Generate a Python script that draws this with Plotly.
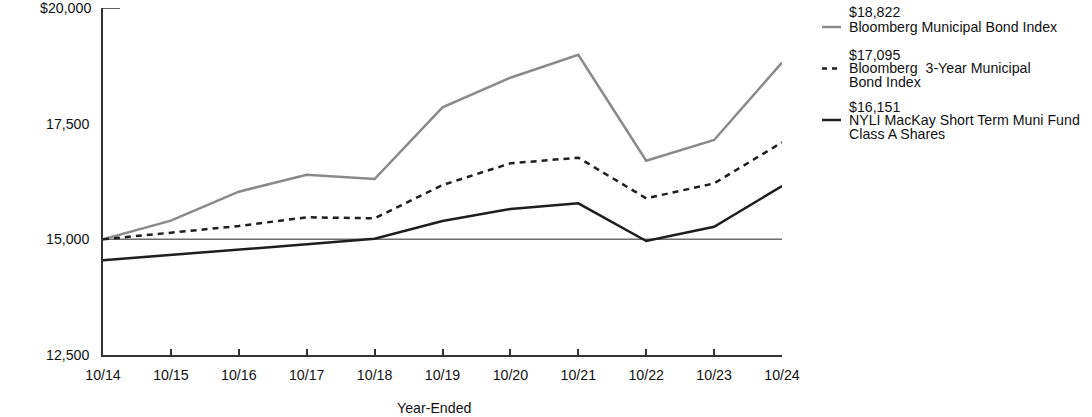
import plotly.graph_objects as go

years = ["10/14", "10/15", "10/16", "10/17", "10/18", "10/19", "10/20", "10/21", "10/22", "10/23", "10/24"]
muni_index = [15000, 15403, 16030, 16397, 16304, 17853, 18493, 18990, 16699, 17147, 18822]
muni_3yr = [15000, 15140, 15288, 15476, 15454, 16174, 16643, 16765, 15886, 16210, 17095]
fund = [14550, 14661, 14784, 14892, 15014, 15396, 15655, 15778, 14964, 15273, 16151]

y_ticks = [12500, 15000, 17500]
y_tick_text = ["12,500", "15,000", "17,500"]
y_top = 20000
y_top_text = "$20,000"

legend_values = ["$18,822", "$17,095", "$16,151"]
legend_names = [["Bloomberg Municipal Bond Index"],
                ["Bloomberg  3-Year Municipal", "Bond Index"],
                ["NYLI MacKay Short Term Muni Fund", "Class A Shares"]]

W, H = 1092, 417
L, R, T, B = 103, 782, 8, 355
FONT = "Liberation Sans, Arial, sans-serif"
FS = 14.2

def px_x(p):
    return (p - L) / (R - L)

def px_y(p):
    return (B - p) / (B - T)

gray = "#8a8a8a"
dark = "#1e1e1e"

fig = go.Figure()
fig.add_trace(go.Scatter(x=years, y=muni_index, mode="lines",
                         line=dict(color=gray, width=2.5), showlegend=False))
fig.add_trace(go.Scatter(x=years, y=muni_3yr, mode="lines",
                         line=dict(color=dark, width=2.5, dash="6px,5px"), showlegend=False))
fig.add_trace(go.Scatter(x=years, y=fund, mode="lines",
                         line=dict(color=dark, width=2.5), showlegend=False))

shapes = [
    dict(type="line", xref="paper", yref="y", x0=0, x1=1, y0=15000, y1=15000,
         line=dict(color="#6e6e6e", width=1.5), layer="below"),
    dict(type="line", xref="paper", yref="y", x0=0, x1=px_x(120), y0=y_top, y1=y_top,
         line=dict(color="#333333", width=1.5)),
]
styles = [dict(color=gray, width=2.5), dict(color=dark, width=2.5, dash="5px,5px"),
          dict(color=dark, width=2.5)]
sample_y = [27, 68.5, 120]
value_y = [12, 54.5, 106.5]
name_y = [27, 68.5, 120]
LH = 13.8
annotations = []
for i in range(3):
    shapes.append(dict(type="line", xref="paper", yref="paper",
                       x0=px_x(822), x1=px_x(841), y0=px_y(sample_y[i]), y1=px_y(sample_y[i]),
                       line=styles[i]))
    annotations.append(dict(text=legend_values[i], xref="paper", yref="paper",
                            x=px_x(847), y=px_y(value_y[i]), xanchor="left", yanchor="middle",
                            showarrow=False, align="left", font=dict(size=FS, color="#111")))
    for j, line in enumerate(legend_names[i]):
        annotations.append(dict(text=line, xref="paper", yref="paper",
                                x=px_x(847), y=px_y(name_y[i] + j * LH), xanchor="left",
                                yanchor="middle", showarrow=False, align="left",
                                font=dict(size=FS, color="#111")))
annotations.append(dict(text=y_top_text, xref="paper", yref="y",
                        x=px_x(93), y=y_top, xanchor="right", yanchor="middle",
                        showarrow=False, font=dict(size=FS, color="#111")))
annotations.append(dict(text="Year-Ended", xref="paper", yref="paper",
                        x=px_x(434), y=px_y(408), xanchor="center", yanchor="middle",
                        showarrow=False, font=dict(size=FS, color="#111")))

fig.update_layout(
    width=W, height=H,
    margin=dict(l=L, r=W - R, t=T, b=H - B, autoexpand=False),
    paper_bgcolor="white", plot_bgcolor="white",
    font=dict(family=FONT, size=FS, color="#111"),
    shapes=shapes, annotations=annotations,
    xaxis=dict(type="category", range=[0, 10], showgrid=False, zeroline=False,
               showline=True, linecolor="#333333", linewidth=1.5, automargin=False,
               ticks="inside", ticklen=6, tickcolor="#333333", tickwidth=1.5,
               tickfont=dict(size=FS), ticklabelstandoff=6),
    yaxis=dict(range=[12500, 20000], tickvals=y_ticks, ticktext=y_tick_text,
               showgrid=False, zeroline=False, showline=True, linecolor="#333333",
               linewidth=1.5, ticks="", tickfont=dict(size=FS), ticklabelstandoff=9,
               automargin=False),
)

fig.write_html("out.html")
